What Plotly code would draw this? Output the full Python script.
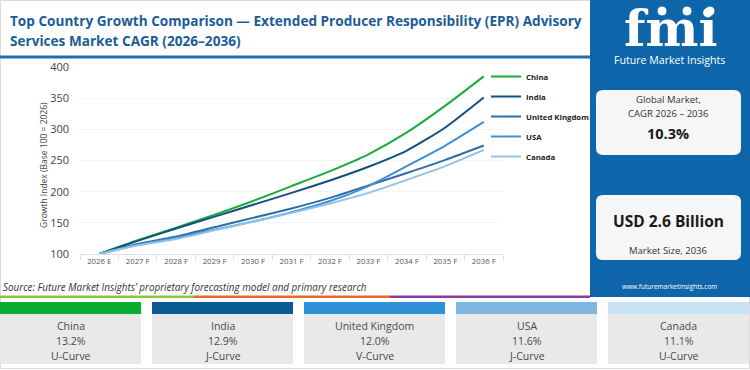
import plotly.graph_objects as go

# ---------------- data ----------------
years = ["2026 E", "2027 F", "2028 F", "2029 F", "2030 F", "2031 F",
         "2032 F", "2033 F", "2034 F", "2035 F", "2036 F"]
china = [100, 122, 142, 163, 185, 209, 233, 260, 295, 338, 385]
india = [100, 121, 141, 160, 179, 198, 218, 240, 266, 303, 351]
uk = [100, 116, 128, 143, 158, 173, 190, 210, 230, 251, 274]
usa = [100, 115, 126, 139, 152, 167, 185, 209, 241, 274, 312]
canada = [100, 114, 124, 138, 152, 166, 181, 198, 219, 241, 267]

series_names = ["China", "India", "United Kingdom", "USA", "Canada"]
series_values = [china, india, uk, usa, canada]
line_colors = ["#1aab3a", "#11507f", "#2d6ea6", "#3f90d2", "#93c2e8"]

card_names = ["China", "India", "United Kingdom", "USA", "Canada"]
card_cagr = ["13.2%", "12.9%", "12.0%", "11.6%", "11.1%"]
card_shape = ["U-Curve", "J-Curve", "V-Curve", "J-Curve", "U-Curve"]
card_colors = ["#0aad2f", "#0b5a92", "#2f92d8", "#7fb7e2", "#c6e2f4"]

global_cagr = "10.3%"
market_size = "USD 2.6 Billion"

# ---------------- layout helpers ----------------
W, H = 750, 370
PL, PR, PT, PB = 80, 503, 67, 254
FONT = "Open Sans"
PANEL = "#0e65a9"


def X(px):
    return (px - PL) / (PR - PL)


def Y(py):
    return (PB - py) / (PB - PT)


def rrect(x0, y0, x1, y1, r):
    rx = r / (PR - PL)
    ry = r / (PB - PT)
    a0, a1 = X(x0), X(x1)
    b0, b1 = Y(y1), Y(y0)  # b0 bottom, b1 top
    return (f"M{a0+rx},{b0} L{a1-rx},{b0} Q{a1},{b0} {a1},{b0+ry} "
            f"L{a1},{b1-ry} Q{a1},{b1} {a1-rx},{b1} L{a0+rx},{b1} "
            f"Q{a0},{b1} {a0},{b1-ry} L{a0},{b0+ry} Q{a0},{b0} {a0+rx},{b0} Z")


fig = go.Figure()
for i, (name, vals) in enumerate(zip(series_names, series_values)):
    fig.add_trace(go.Scatter(
        x=years, y=vals, name=name, mode="lines",
        line=dict(color=line_colors[i], width=2, shape="spline", smoothing=0.6),
        legendgroup=name,
    ))

shapes = []
annotations = []

# outer frame
shapes.append(dict(type="rect", xref="paper", yref="paper",
                   x0=X(0.5), x1=X(749.5), y0=Y(368.5), y1=Y(0.5),
                   line=dict(color="#dcdcdc", width=1), fillcolor="rgba(0,0,0,0)", layer="below"))

# title underline
shapes.append(dict(type="line", xref="paper", yref="paper",
                   x0=X(0), x1=X(591), y0=Y(57), y1=Y(57),
                   line=dict(color="#1f6fae", width=3)))

# right panel
shapes.append(dict(type="rect", xref="paper", yref="paper",
                   x0=X(590), x1=X(750), y0=Y(297), y1=Y(0),
                   line=dict(width=0), fillcolor=PANEL, layer="below"))

# white boxes in panel
for (y0, y1) in [(90, 155), (195, 260)]:
    shapes.append(dict(type="path", xref="paper", yref="paper",
                       path=rrect(596, y0, 741, y1, 7),
                       line=dict(width=0), fillcolor="#f6f6f6"))

# coloured strip under source
for (x0, x1, c) in [(0, 194, "#8cc63f"), (194, 390, "#e8692a"), (390, 590, "#8e3ba0")]:
    shapes.append(dict(type="rect", xref="paper", yref="paper",
                       x0=X(x0), x1=X(x1), y0=Y(298), y1=Y(295.5),
                       line=dict(width=0), fillcolor=c))

# cards
card_x = [(0, 141), (152, 293), (304, 445), (456, 597), (608, 749)]
for i, (x0, x1) in enumerate(card_x):
    shapes.append(dict(type="rect", xref="paper", yref="paper",
                       x0=X(x0), x1=X(x1), y0=Y(364), y1=Y(314),
                       line=dict(width=0), fillcolor="#e9e9e9"))
    shapes.append(dict(type="rect", xref="paper", yref="paper",
                       x0=X(x0), x1=X(x1), y0=Y(314), y1=Y(302),
                       line=dict(width=0), fillcolor=card_colors[i]))
    cx = (x0 + x1) / 2
    for (txt, yy) in [(card_names[i], 326), (card_cagr[i], 341), (card_shape[i], 356)]:
        annotations.append(dict(xref="paper", yref="paper", x=X(cx), y=Y(yy),
                                text=txt, showarrow=False, xanchor="center", yanchor="middle",
                                font=dict(family=FONT, size=10.5, color="#4a4a4a")))

# title
annotations.append(dict(xref="paper", yref="paper", x=X(8), y=Y(20),
                        text="<b>Top Country Growth Comparison — Extended Producer Responsibility (EPR) Advisory</b>",
                        showarrow=False, xanchor="left", yanchor="middle",
                        font=dict(family=FONT, size=13.6, color="#1b5d96")))
annotations.append(dict(xref="paper", yref="paper", x=X(8), y=Y(40),
                        text="<b>Services Market CAGR (2026–2036)</b>",
                        showarrow=False, xanchor="left", yanchor="middle",
                        font=dict(family=FONT, size=13.6, color="#1b5d96")))

# y-axis title
annotations.append(dict(xref="paper", yref="paper", x=X(43), y=Y(165),
                        text="Growth Index (Base 100 = 2026)", textangle=-90,
                        showarrow=False, xanchor="center", yanchor="middle",
                        font=dict(family=FONT, size=8.5, color="#444444")))

# source
annotations.append(dict(xref="paper", yref="paper", x=X(1), y=Y(287),
                        text="<i>Source: Future Market Insights’ proprietary forecasting model and primary research</i>",
                        showarrow=False, xanchor="left", yanchor="middle",
                        font=dict(family=FONT, size=9.9, color="#333333")))

# logo
annotations.append(dict(xref="paper", yref="paper", x=X(670), y=Y(28),
                        text="<b>fmi</b>", showarrow=False, xanchor="center", yanchor="middle",
                        height=44, valign="middle",
                        font=dict(family="DejaVu Serif", size=50, color="#ffffff")))
for yy in range(10, 52, 3):
    shapes.append(dict(type="line", xref="paper", yref="paper",
                       x0=X(605), x1=X(735), y0=Y(yy), y1=Y(yy),
                       line=dict(color=PANEL, width=0.8)))
for cx in [662, 687, 710]:
    shapes.append(dict(type="circle", xref="paper", yref="paper",
                       x0=X(cx - 5), x1=X(cx + 5), y0=Y(16), y1=Y(6),
                       line=dict(color=PANEL, width=1), fillcolor="#ffffff"))
annotations.append(dict(xref="paper", yref="paper", x=X(669), y=Y(60),
                        text="Future Market Insights", showarrow=False,
                        xanchor="center", yanchor="middle",
                        font=dict(family=FONT, size=10.6, color="#ffffff")))

# panel box texts
for (txt, yy, sz, bold) in [("Global Market,", 99, 9.5, False),
                            ("CAGR 2026 – 2036", 113, 9.5, False),
                            (global_cagr, 133, 14.5, True),
                            (market_size, 221, 15.5, True),
                            ("Market Size, 2036", 250, 9.5, False)]:
    annotations.append(dict(xref="paper", yref="paper", x=X(668), y=Y(yy),
                            text=f"<b>{txt}</b>" if bold else txt, showarrow=False,
                            xanchor="center", yanchor="middle",
                            font=dict(family=FONT, size=sz, color="#1a1a1a" if bold else "#333333")))
annotations.append(dict(xref="paper", yref="paper", x=X(669), y=Y(286),
                        text="www.futuremarketinsights.com", showarrow=False,
                        xanchor="center", yanchor="middle",
                        font=dict(family=FONT, size=6.5, color="#ffffff")))

fig.update_layout(
    width=W, height=H,
    margin=dict(l=PL, r=W - PR, t=PT, b=H - PB, pad=0, autoexpand=False),
    paper_bgcolor="#ffffff", plot_bgcolor="#ffffff",
    showlegend=True,
    legend=dict(xref="container", yref="container", x=486 / W, y=1 - 62 / H,
                xanchor="left", yanchor="top", bgcolor="rgba(0,0,0,0)",
                font=dict(family=FONT, size=7.8, color="#222222", weight="bold"),
                tracegroupgap=1, itemwidth=30),
    xaxis=dict(type="category", range=[-0.5, 10.5], tickson="boundaries",
               ticks="outside", ticklen=5, tickcolor="#e0e0e0", tickangle=0,
               showline=True, linecolor="#e0e0e0", showgrid=False,
               tickfont=dict(family=FONT, size=7.8, color="#555555")),
    yaxis=dict(range=[100, 400], tickvals=[100, 150, 200, 250, 300, 350, 400],
               showgrid=True, gridcolor="#f4f4f4", zeroline=False, showline=False,
               ticks="", ticklabelstandoff=10,
               tickfont=dict(family=FONT, size=11, color="#444444")),
    shapes=shapes,
    annotations=annotations,
)

fig.write_html("out.html", config={"displayModeBar": False},
               post_script="document.body.style.margin='0px';")
